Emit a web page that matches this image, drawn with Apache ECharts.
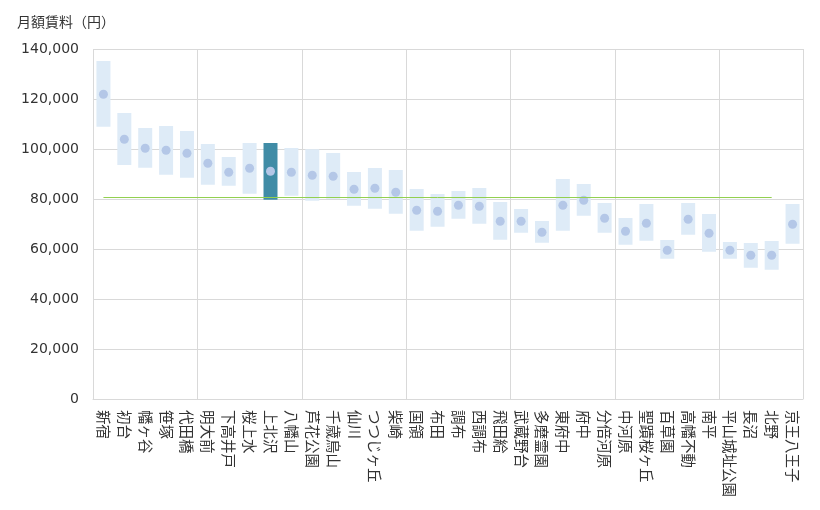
<!DOCTYPE html>
<html>
<head>
<meta charset="utf-8">
<script src="https://cdn.jsdelivr.net/npm/echarts@6/dist/echarts.min.js"></script>
<style>html,body{margin:0;padding:0;background:#fff}#c{width:820px;height:510px}</style>
</head>
<body>
<div id="c"></div>
<script>
var stations = ['新宿','初台','幡ヶ谷','笹塚','代田橋','明大前','下高井戸','桜上水','上北沢','八幡山','芦花公園','千歳烏山','仙川','つつじヶ丘','柴崎','国領','布田','調布','西調布','飛田給','武蔵野台','多磨霊園','東府中','府中','分倍河原','中河原','聖蹟桜ヶ丘','百草園','高幡不動','南平','平山城址公園','長沼','北野','京王八王子'];
var rentLow  = [108900,93600,92500,89700,88500,85700,85300,82100,79700,81300,79300,80100,77300,76100,74100,67300,68900,72100,70100,63700,66500,62500,67300,73300,66500,61700,63300,56100,65700,58900,56100,52500,51700,62100];
var rentHigh = [135200,114400,108400,109200,107200,102000,96800,102400,102400,100400,99900,98400,90800,92400,91600,84000,82000,83200,84400,78800,76000,71200,88000,86000,78400,72400,78000,63600,78400,74000,62800,62400,63200,78000];
var rentMid  = [121900,103900,100300,99500,98300,94300,90700,92300,91100,90700,89500,89100,83900,84300,82700,75500,75100,77500,77100,71100,71100,66700,77500,79500,72300,67100,70300,59500,71900,66300,59500,57500,57500,69900];
var yTicks = [0,20000,40000,60000,80000,100000,120000,140000];
var averageRent = 80700;
var highlightStation = '上北沢';
var lineStart = '新宿', lineEnd = '北野';

var spans = rentHigh.map(function(h, i){
  var item = { value: h - rentLow[i] };
  if (stations[i] === highlightStation) item.itemStyle = { color: '#408ca6' };
  return item;
});

var font = 'DejaVu Sans, Noto Sans CJK JP, sans-serif';
var chart = echarts.init(document.getElementById('c'));
chart.setOption({
  animation: false,
  title: { text: '月額賃料（円）', left: 12, top: 10,
    textStyle: { fontSize: 14, fontWeight: 'normal', color: '#333', fontFamily: 'Noto Sans CJK JP, sans-serif' } },
  grid: { left: 93, right: 17, top: 49, bottom: 111 },
  xAxis: {
    type: 'category', data: stations, boundaryGap: true,
    axisLine: { show: true, lineStyle: { color: '#d9d9d9' } },
    axisTick: { show: false },
    axisLabel: { interval: 0, rotate: -90, margin: 11, fontSize: 14.5, color: '#333', fontFamily: 'Noto Sans CJK JP, sans-serif' },
    splitLine: { show: true, interval: function(i){ return i % 5 === 0; }, lineStyle: { color: '#d9d9d9' } }
  },
  yAxis: {
    type: 'value', min: yTicks[0], max: yTicks[yTicks.length-1], interval: yTicks[1]-yTicks[0],
    axisLine: { show: false }, axisTick: { show: false },
    axisLabel: { margin: 14, fontSize: 14, color: '#333', fontFamily: font,
      formatter: function(v){ return v.toLocaleString('en-US'); } },
    splitLine: { lineStyle: { color: '#d9d9d9' } }
  },
  series: [
    { type: 'bar', stack: 'r', data: rentLow, barWidth: 14, itemStyle: { color: 'transparent' }, silent: true },
    { type: 'bar', stack: 'r', data: spans, barWidth: 14, itemStyle: { color: '#deebf7' } },
    { type: 'scatter', data: rentMid, symbolSize: 9, itemStyle: { color: '#b4c7e7', opacity: 1 }, z: 3,
      markLine: { silent: true, symbol: ['none','none'], label: { show: false }, z: 5,
        lineStyle: { color: '#92d050', width: 1, type: 'solid' },
        data: [[ { coord: [lineStart, averageRent] }, { coord: [lineEnd, averageRent] } ]] } }
  ]
});
</script>
</body>
</html>
